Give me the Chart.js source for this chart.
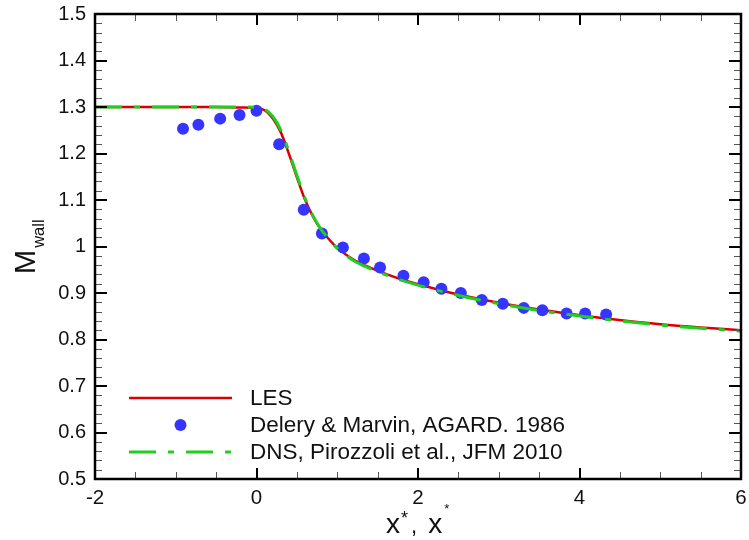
<!DOCTYPE html>
<html>
<head>
<meta charset="utf-8">
<script src="https://cdn.jsdelivr.net/npm/chart.js@4/dist/chart.umd.min.js"></script>
<style>
html,body{margin:0;padding:0;background:#fff;}
canvas{display:block;}
</style>
</head>
<body>
<canvas id="c" width="749" height="540"></canvas>
<script>
// ---- data ----
const lesX = [-2, -1, -0.5, -0.2, 0, 0.1, 0.2, 0.3, 0.4, 0.5, 0.6, 0.7, 0.8, 0.9, 1.0, 1.2, 1.4, 1.6, 1.8, 2.0, 2.3, 2.6, 3.0, 3.4, 3.8, 4.2, 4.6, 5.0, 5.5, 6.0];
const lesY = [1.300, 1.300, 1.300, 1.299, 1.298, 1.293, 1.276, 1.246, 1.200, 1.149, 1.101, 1.064, 1.036, 1.015, 0.997, 0.972, 0.955, 0.941, 0.929, 0.919, 0.905, 0.893, 0.879, 0.867, 0.857, 0.848, 0.840, 0.833, 0.826, 0.820];
const dnsX = [-2, -1, -0.5, -0.2, 0, 0.1, 0.2, 0.3, 0.4, 0.5, 0.6, 0.7, 0.8, 0.9, 1.0, 1.2, 1.4, 1.6, 1.8, 2.0, 2.3, 2.6, 3.0, 3.4, 3.8, 4.2, 4.6, 5.0, 5.5, 6.0];
const dnsY = [1.300, 1.300, 1.300, 1.300, 1.299, 1.295, 1.280, 1.251, 1.205, 1.153, 1.104, 1.066, 1.037, 1.015, 0.996, 0.970, 0.953, 0.939, 0.927, 0.917, 0.903, 0.891, 0.877, 0.865, 0.855, 0.846, 0.838, 0.831, 0.824, 0.818];
const expX = [-0.91, -0.72, -0.45, -0.21, 0.0, 0.28, 0.585, 0.81, 1.07, 1.33, 1.53, 1.82, 2.07, 2.29, 2.53, 2.79, 3.05, 3.31, 3.54, 3.84, 4.07, 4.33];
const expY = [1.253, 1.262, 1.275, 1.283, 1.292, 1.220, 1.079, 1.028, 0.998, 0.974, 0.955, 0.937, 0.923, 0.909, 0.900, 0.885, 0.877, 0.868, 0.863, 0.856, 0.856, 0.854];
const seriesNames = ['LES', 'Delery & Marvin, AGARD. 1986', 'DNS, Pirozzoli et al., JFM 2010'];
const xTickValues = [-2, 0, 2, 4, 6];
const xTickLabels = ['-2', '0', '2', '4', '6'];
const yTickValues = [0.5, 0.6, 0.7, 0.8, 0.9, 1.0, 1.1, 1.2, 1.3, 1.4, 1.5];
const yTickLabels = ['0.5', '0.6', '0.7', '0.8', '0.9', '1', '1.1', '1.2', '1.3', '1.4', '1.5'];
const xMinorStep = 0.5;
const yMinorStep = 0.02;

const FONT = '"Liberation Sans", Arial, Helvetica, sans-serif';
const RED = '#d80000';
const BLUE = '#3535ff';
const GREEN = '#1ecf1e';
const DASH = [27, 12, 6, 12];

const pts = (xs, ys) => xs.map((x, i) => ({x: x, y: ys[i]}));

const framePlugin = {
  id: 'frame',
  afterDraw(chart) {
    const ctx = chart.ctx;
    const a = chart.chartArea;
    const xs = chart.scales.x, ys = chart.scales.y;
    ctx.save();
    // minor ticks
    ctx.lineWidth = 1;
    ctx.strokeStyle = '#555';
    for (let v = xs.min; v <= xs.max + 1e-9; v += xMinorStep) {
      const p = Math.round(xs.getPixelForValue(v)) + 0.5;
      ctx.beginPath();
      ctx.moveTo(p, a.bottom); ctx.lineTo(p, a.bottom - 7);
      ctx.moveTo(p, a.top); ctx.lineTo(p, a.top + 7);
      ctx.stroke();
    }
    for (let v = ys.min; v <= ys.max + 1e-9; v += yMinorStep) {
      const p = Math.round(ys.getPixelForValue(v)) + 0.5;
      ctx.beginPath();
      ctx.moveTo(a.left, p); ctx.lineTo(a.left + 7, p);
      ctx.moveTo(a.right, p); ctx.lineTo(a.right - 7, p);
      ctx.stroke();
    }
    // major ticks
    ctx.lineWidth = 2;
    ctx.strokeStyle = '#000';
    xTickValues.forEach(v => {
      const p = Math.round(xs.getPixelForValue(v));
      ctx.beginPath();
      ctx.moveTo(p, a.bottom); ctx.lineTo(p, a.bottom - 11);
      ctx.moveTo(p, a.top); ctx.lineTo(p, a.top + 11);
      ctx.stroke();
    });
    yTickValues.forEach(v => {
      const p = Math.round(ys.getPixelForValue(v));
      ctx.beginPath();
      ctx.moveTo(a.left, p); ctx.lineTo(a.left + 12, p);
      ctx.moveTo(a.right, p); ctx.lineTo(a.right - 12, p);
      ctx.stroke();
    });
    // frame
    ctx.lineWidth = 2.5;
    ctx.strokeRect(a.left, a.top, a.right - a.left, a.bottom - a.top);

    // legend
    const lx0 = a.left + 34, lx1 = a.left + 137, tx = a.left + 155;
    const ly = [a.bottom - 81, a.bottom - 54, a.bottom - 27];
    ctx.lineWidth = 2.5;
    ctx.strokeStyle = RED;
    ctx.beginPath(); ctx.moveTo(lx0, ly[0]); ctx.lineTo(lx1, ly[0]); ctx.stroke();
    ctx.fillStyle = BLUE;
    ctx.beginPath(); ctx.arc((lx0 + lx1) / 2, ly[1], 6, 0, Math.PI * 2); ctx.fill();
    ctx.strokeStyle = GREEN;
    ctx.lineWidth = 3;
    ctx.setLineDash(DASH);
    ctx.beginPath(); ctx.moveTo(lx0, ly[2]); ctx.lineTo(lx1, ly[2]); ctx.stroke();
    ctx.setLineDash([]);
    ctx.fillStyle = '#111';
    ctx.font = '22.5px ' + FONT;
    ctx.textBaseline = 'middle';
    ctx.textAlign = 'left';
    seriesNames.forEach((n, i) => ctx.fillText(n, tx, ly[i] + 1));

    // y title M_wall
    ctx.save();
    ctx.translate(35, 274);
    ctx.rotate(-Math.PI / 2);
    ctx.textBaseline = 'alphabetic';
    ctx.font = '29px ' + FONT;
    ctx.fillText('M', 0, 0);
    const mw = ctx.measureText('M').width;
    ctx.font = '16.5px ' + FONT;
    ctx.fillText('wall', mw + 2, 9);
    ctx.restore();

    // x title x*, x*
    ctx.textBaseline = 'alphabetic';
    let cx = 386;
    const by = 533;
    ctx.font = '28px ' + FONT;
    ctx.fillText('x', cx, by); cx += ctx.measureText('x').width + 1;
    ctx.font = '18px ' + FONT;
    ctx.fillText('*', cx, by - 9); cx += ctx.measureText('*').width + 3;
    ctx.font = '22px ' + FONT;
    ctx.fillText(', ', cx, by); cx += ctx.measureText(', ').width + 5;
    ctx.font = '28px ' + FONT;
    ctx.fillText('x', cx, by); cx += ctx.measureText('x').width + 2;
    ctx.font = '13px ' + FONT;
    ctx.fillText('*', cx, by - 20);
    ctx.restore();
  }
};

new Chart(document.getElementById('c'), {
  type: 'scatter',
  data: {
    datasets: [
      {label: seriesNames[0], data: pts(lesX, lesY), showLine: true, borderColor: RED, borderWidth: 2.5,
       pointRadius: 0, cubicInterpolationMode: 'monotone', order: 2},
      {label: seriesNames[1], data: pts(expX, expY), showLine: false, backgroundColor: BLUE, borderColor: BLUE,
       borderWidth: 0, pointRadius: 6, order: 1},
      {label: seriesNames[2], data: pts(dnsX, dnsY), showLine: true, borderColor: GREEN, borderWidth: 3,
       borderDash: DASH, pointRadius: 0, cubicInterpolationMode: 'monotone', order: 0}
    ]
  },
  options: {
    responsive: false,
    devicePixelRatio: 1,
    animation: false,
    layout: {padding: {left: 0, right: 8, top: 14, bottom: 0}},
    plugins: {legend: {display: false}, tooltip: {enabled: false}},
    scales: {
      x: {
        type: 'linear', min: -2, max: 6,
        grid: {display: false, drawTicks: false}, border: {display: false},
        afterBuildTicks: s => { s.ticks = xTickValues.map(v => ({value: v})); },
        afterFit: s => { s.height = 61; s.paddingLeft = 0; s.paddingRight = 0; },
        ticks: {color: '#111', font: {family: FONT, size: 20.5}, padding: 7, maxRotation: 0,
                callback: (v, i) => xTickLabels[i]}
      },
      y: {
        type: 'linear', min: 0.5, max: 1.5,
        grid: {display: false, drawTicks: false}, border: {display: false},
        afterBuildTicks: s => { s.ticks = yTickValues.map(v => ({value: v})); },
        afterFit: s => { s.width = 95; s.paddingTop = 0; s.paddingBottom = 0; },
        ticks: {color: '#111', font: {family: FONT, size: 20}, padding: 9,
                callback: (v, i) => yTickLabels[i]}
      }
    }
  },
  plugins: [framePlugin]
});
</script>
</body>
</html>
